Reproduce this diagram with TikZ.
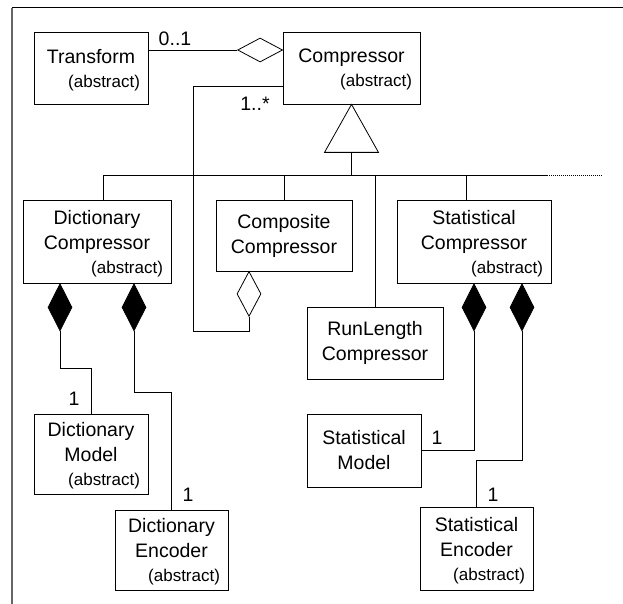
\documentclass[tikz,border=0pt]{standalone}
\usepackage{fontspec}
\setmainfont{Liberation Sans}
\usetikzlibrary{shapes.geometric}

\newcommand{\clsfont}{\fontsize{19.5}{25}\selectfont}
\newcommand{\abstr}{\\[-1pt]\makebox[\linewidth][r]{%
  \raisebox{0pt}[0pt][0pt]{\fontsize{17}{24}\selectfont(abstract)}}}

\tikzset{
  cls/.style={draw, rectangle, inner xsep=8pt, inner ysep=0pt, align=center,
    text width=#1, font=\clsfont},
  fdiam/.style={draw, fill=black, diamond, inner sep=0pt,
    minimum width=24pt, minimum height=47pt, anchor=north},
  odiam/.style={draw, fill=white, diamond, inner sep=0pt},
  mult/.style={font=\clsfont, inner sep=0pt}
}

\begin{document}
\begin{tikzpicture}[x=1pt, y=-1pt, line width=0.8pt]
\useasboundingbox (0,0) rectangle (623,604);
\draw[black!60, line width=1.5pt] (12,604) -- (12,8);
\draw[line width=1pt] (12,8) -- (623,8);

% classes
\node[cls=98pt, minimum height=72pt] (transform) at (91,68) {Transform\abstr};
\node[cls=121pt, minimum height=72pt] (compressor) at (351.5,68) {Compressor\abstr};
\node[cls=132pt, minimum height=83pt] (dictcomp) at (97,241.5) {Dictionary\\Compressor\abstr};
\node[cls=120pt, minimum height=71pt] (composite) at (284,235.5) {Composite\\Compressor};
\node[cls=120pt, minimum height=72pt] (runlength) at (375,343) {RunLength\\Compressor};
\node[cls=138pt, minimum height=83pt] (statcomp) at (474,241.5) {Statistical\\Compressor\abstr};
\node[cls=98pt, minimum height=80pt] (dictmodel) at (91,454) {Dictionary\\Model\abstr};
\node[cls=97pt, minimum height=80pt] (dictenc) at (171.5,550) {Dictionary\\Encoder\abstr};
\node[cls=98pt, minimum height=73pt] (statmodel) at (364,450.5) {Statistical\\Model};
\node[cls=97pt, minimum height=83pt] (statenc) at (476.5,548.5) {Statistical\\Encoder\abstr};

% transform aggregation
\node[odiam, minimum width=45pt, minimum height=24pt, anchor=east] (tagg) at (283,50) {};
\draw (tagg.west) -- (tagg.west -| transform.east);
\node[mult] (mtr) at (175,39) {0..1};

% composite aggregation
\node[odiam, minimum width=24pt, minimum height=45pt, anchor=north] (cagg) at (249,271) {};
\coordinate (cbl) at (193,331);
\coordinate (ctop) at (193,86);
\draw (cagg.south) |- (cbl) -- (ctop) -- (ctop -| compressor.west);
\node[mult] (mcomp) at (255,104) {1..*};

% generalization
\draw (compressor.south) -- ++(27,48) -- ++(-54,0) -- cycle;
\coordinate (gen) at (351.5,152);
\coordinate (bus) at (351.5,175);
\coordinate (busl) at (103,175);
\coordinate (busr) at (547,175);
\coordinate (bust) at (466,175);
\draw (gen) -- (bus);
\draw (busl) -- (busr);
\draw[dash pattern=on 1pt off 1pt] (busr) -- ++(55,0);
\draw (busl) -- (busl |- dictcomp.north);
\draw (composite.north) -- (composite.north |- busl);
\draw (runlength.north) -- (runlength.north |- busl);
\draw (bust) -- (bust |- statcomp.north);

% compositions
\node[fdiam] (dcm) at ([xshift=-37pt]dictcomp.south) {};
\node[fdiam] (dce) at ([xshift=37pt]dictcomp.south) {};
\node[fdiam] (scm) at (statcomp.south) {};
\node[fdiam] (sce) at ([xshift=48pt]statcomp.south) {};
\draw (dcm.south) -- ++(0,37) -| (dictmodel.north);
\draw (dce.south) -- ++(0,61) -| (dictenc.north);
\draw (scm.south) |- (statmodel.east);
\draw (sce.south) -- ++(0,129) -| (statenc.north);

% multiplicities
\node[mult] (mdm) at (74,399) {1};
\node[mult] (mde) at (188,495) {1};
\node[mult] (msm) at (437,438) {1};
\node[mult] (mse) at (493,495) {1};
\end{tikzpicture}
\end{document}
